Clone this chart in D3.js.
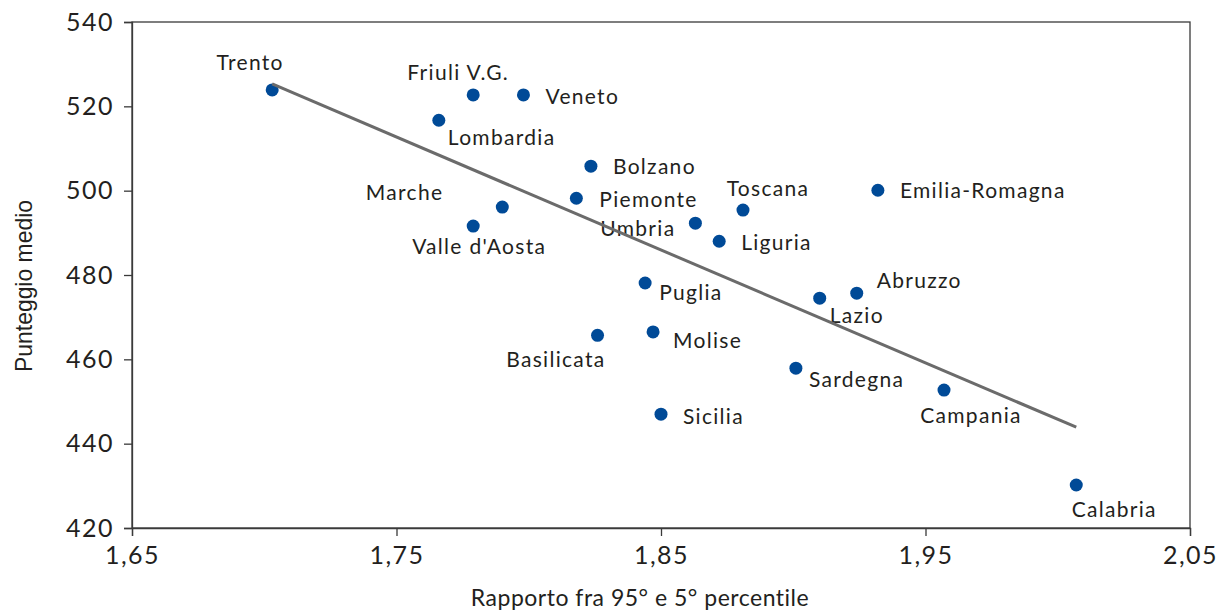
<!DOCTYPE html>
<html>
<head>
<meta charset="utf-8">
<script src="https://cdn.jsdelivr.net/npm/d3@7"></script>
<style>
  body { margin: 0; background: #fff; }
  svg text { font-family: Lato, "Noto Sans", sans-serif; fill: #231f20; }
</style>
</head>
<body>
<div id="chart"></div>
<script>
// regional data: ratio 95th/5th percentile vs mean score
var regions = ["Trento", "Friuli V.G.", "Veneto", "Lombardia", "Bolzano", "Piemonte", "Marche",
  "Valle d'Aosta", "Umbria", "Toscana", "Liguria", "Emilia-Romagna", "Puglia", "Abruzzo", "Lazio",
  "Basilicata", "Molise", "Sardegna", "Campania", "Sicilia", "Calabria"];
var ratio = [1.703, 1.779, 1.798, 1.766, 1.8235, 1.818, 1.790, 1.779, 1.863, 1.881, 1.872, 1.932,
  1.844, 1.924, 1.910, 1.826, 1.847, 1.901, 1.957, 1.850, 2.007];
var score = [523.9, 522.7, 522.7, 516.7, 505.8, 498.2, 496.1, 491.6, 492.3, 495.4, 488.0, 500.1,
  478.1, 475.7, 474.5, 465.7, 466.5, 457.9, 452.7, 447.0, 430.2];
var trendX = [1.703, 2.007];
var trendY = [525.3, 443.9];
var xTicks = [1.65, 1.75, 1.85, 1.95, 2.05];
var yTicks = [420, 440, 460, 480, 500, 520, 540];

// label placement: [dx, dy, anchor] relative to the point
var labelPos = {
  "Trento": [-22, -20, "middle"],
  "Friuli V.G.": [-15, -15, "middle"],
  "Veneto": [22, 9, "start"],
  "Lombardia": [9, 25, "start"],
  "Bolzano": [22, 8, "start"],
  "Piemonte": [23, 9, "start"],
  "Marche": [-59, -7, "end"],
  "Valle d'Aosta": [6, 28, "middle"],
  "Umbria": [-20, 13, "end"],
  "Toscana": [25, -14, "middle"],
  "Liguria": [22, 9, "start"],
  "Emilia-Romagna": [22, 8, "start"],
  "Puglia": [14, 17, "start"],
  "Abruzzo": [20, -5, "start"],
  "Lazio": [10, 25, "start"],
  "Basilicata": [8, 32, "end"],
  "Molise": [20, 16, "start"],
  "Sardegna": [13, 19, "start"],
  "Campania": [27, 33, "middle"],
  "Sicilia": [22, 10, "start"],
  "Calabria": [38, 32, "middle"]
};

var margin = {top: 22, right: 32, bottom: 84, left: 132},
    width = 1222 - margin.left - margin.right,
    height = 612 - margin.top - margin.bottom;

var x = d3.scaleLinear().domain([1.65, 2.05]).range([0, width]),
    y = d3.scaleLinear().domain([420, 540]).range([height, 0]);

var fmt = function(d) { return d3.format(".2f")(d).replace(".", ","); };

var svg = d3.select("#chart").append("svg")
    .attr("width", 1222)
    .attr("height", 612);

var g = svg.append("g")
    .attr("transform", "translate(" + margin.left + "," + margin.top + ")");

// frame
g.append("rect")
    .attr("width", width)
    .attr("height", height)
    .attr("fill", "none")
    .attr("stroke", "#3a3a3a")
    .attr("stroke-width", 1.3);

var xAxis = g.append("g")
    .attr("transform", "translate(0," + height + ")")
    .call(d3.axisBottom(x).tickValues(xTicks).tickFormat(fmt).tickSize(8).tickPadding(10));

var yAxis = g.append("g")
    .call(d3.axisLeft(y).tickValues(yTicks).tickSize(8).tickPadding(10));

[xAxis, yAxis].forEach(function(a) {
  a.select(".domain").attr("stroke", "#3a3a3a").attr("stroke-width", 1.3);
  a.selectAll(".tick line").attr("stroke", "#3a3a3a").attr("stroke-width", 1.3);
  a.selectAll(".tick text")
      .style("font-size", "25px")
      .style("letter-spacing", "1.5px")
      .attr("fill", "#231f20");
});

// axis titles
svg.append("text")
    .attr("x", 640)
    .attr("y", 606)
    .attr("text-anchor", "middle")
    .style("font-size", "23px")
    .style("letter-spacing", "0.5px")
    .text("Rapporto fra 95° e 5° percentile");

svg.append("text")
    .attr("transform", "translate(32,286) rotate(-90)")
    .attr("text-anchor", "middle")
    .attr("textLength", 172)
    .attr("lengthAdjust", "spacingAndGlyphs")
    .style("font-family", "'Liberation Sans', Arial, sans-serif")
    .style("font-size", "24px")
    .text("Punteggio medio");

var data = regions.map(function(r, i) {
  return {name: r, x: ratio[i], y: score[i]};
});

// labels
g.selectAll(".lbl").data(data).enter().append("text")
    .attr("class", "lbl")
    .attr("x", function(d) { return x(d.x) + labelPos[d.name][0]; })
    .attr("y", function(d) { return y(d.y) + labelPos[d.name][1]; })
    .attr("text-anchor", function(d) { return labelPos[d.name][2]; })
    .style("font-size", "21px")
    .style("letter-spacing", "1.3px")
    .text(function(d) { return d.name; });

// points
g.selectAll("circle").data(data).enter().append("circle")
    .attr("cx", function(d) { return x(d.x); })
    .attr("cy", function(d) { return y(d.y); })
    .attr("r", 6.5)
    .attr("fill", "#004a97");

// trend line
g.append("line")
    .attr("x1", x(trendX[0]))
    .attr("y1", y(trendY[0]))
    .attr("x2", x(trendX[1]))
    .attr("y2", y(trendY[1]))
    .attr("stroke", "#6b6b6b")
    .attr("stroke-width", 3);
</script>
</body>
</html>
